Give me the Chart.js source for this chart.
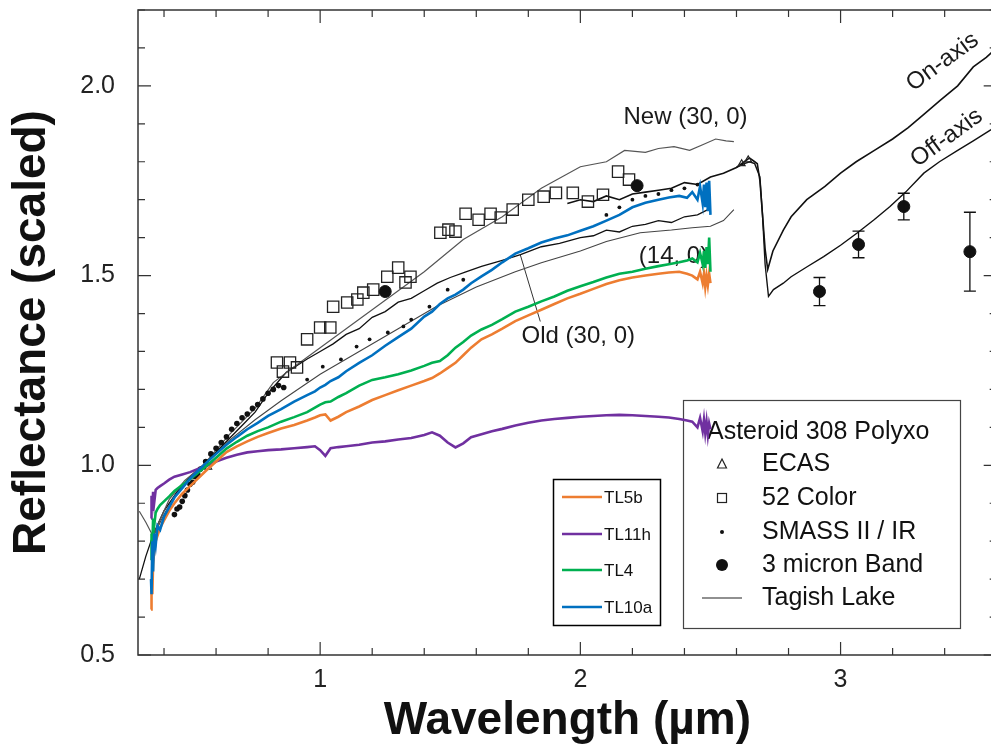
<!DOCTYPE html>
<html>
<head>
<meta charset="utf-8">
<title>Asteroid 308 Polyxo vs Tagish Lake</title>
<script src="https://cdn.jsdelivr.net/npm/chart.js@4.4.1/dist/chart.umd.min.js"></script>
<style>
  html, body { margin: 0; padding: 0; background: #fff; overflow: hidden; }
  #wrap { width: 1006px; height: 748px; }
</style>
</head>
<body>
<div id="wrap"><canvas id="c" width="1006" height="748"></canvas></div>
<script>
// shared wavelength grid (um) for the four coloured TL spectra
const tlWl = [0.350, 0.352, 0.355, 0.358, 0.362, 0.368, 0.375, 0.385, 0.40, 0.42, 0.44, 0.47, 0.50, 0.53, 0.56,
  0.60, 0.64, 0.68, 0.72, 0.76, 0.80, 0.85, 0.90, 0.95, 0.98, 1.00, 1.02, 1.04, 1.07, 1.10, 1.15, 1.20, 1.25,
  1.30, 1.35, 1.40, 1.43, 1.46, 1.49, 1.52, 1.55, 1.58, 1.62, 1.66, 1.70, 1.75, 1.80, 1.85, 1.90, 1.95, 2.00,
  2.05, 2.10, 2.15, 2.20, 2.25, 2.30, 2.34, 2.38, 2.41, 2.43, 2.45, 2.46, 2.47, 2.475, 2.48, 2.485, 2.49, 2.495, 2.50];

const tl10a = [0.70, 0.66, 0.80, 0.72, 0.82, 0.79, 0.84, 0.83, 0.865, 0.89, 0.915, 0.94, 0.965, 0.985, 1.005,
  1.03, 1.054, 1.075, 1.095, 1.112, 1.13, 1.148, 1.168, 1.185, 1.195, 1.205, 1.212, 1.222, 1.232, 1.248, 1.27, 1.29, 1.315,
  1.338, 1.36, 1.392, 1.405, 1.425, 1.44, 1.45, 1.463, 1.48, 1.498, 1.515, 1.535, 1.558, 1.572, 1.587, 1.598, 1.606, 1.618,
  1.63, 1.645, 1.66, 1.68, 1.692, 1.70, 1.706, 1.71, 1.705, 1.72, 1.70, 1.735, 1.69, 1.74, 1.68, 1.745, 1.67, 1.75, 1.66];

const tl4 = [0.75, 0.82, 0.78, 0.86, 0.84, 0.875, 0.885, 0.895, 0.905, 0.918, 0.932, 0.948, 0.963, 0.98, 0.997,
  1.02, 1.044, 1.062, 1.078, 1.09, 1.10, 1.115, 1.127, 1.14, 1.152, 1.16, 1.166, 1.168, 1.18, 1.19, 1.21, 1.225, 1.232,
  1.24, 1.25, 1.262, 1.27, 1.275, 1.29, 1.31, 1.325, 1.342, 1.358, 1.37, 1.385, 1.405, 1.418, 1.432, 1.445, 1.46, 1.472,
  1.483, 1.495, 1.505, 1.51, 1.518, 1.525, 1.53, 1.535, 1.54, 1.545, 1.535, 1.56, 1.53, 1.565, 1.52, 1.575, 1.53, 1.60, 1.51];

const tl5b = [0.62, 0.70, 0.66, 0.74, 0.77, 0.80, 0.815, 0.835, 0.855, 0.88, 0.90, 0.925, 0.945, 0.965, 0.985,
  1.01, 1.035, 1.05, 1.063, 1.075, 1.085, 1.097, 1.106, 1.118, 1.126, 1.132, 1.134, 1.118, 1.128, 1.14, 1.155, 1.172, 1.185,
  1.198, 1.21, 1.222, 1.23, 1.242, 1.256, 1.27, 1.29, 1.31, 1.332, 1.345, 1.36, 1.38, 1.395, 1.41, 1.425, 1.44, 1.452,
  1.465, 1.478, 1.488, 1.495, 1.50, 1.505, 1.508, 1.51, 1.505, 1.50, 1.49, 1.51, 1.48, 1.505, 1.47, 1.50, 1.475, 1.505, 1.48];

const tl11h = [0.86, 0.92, 0.88, 0.93, 0.90, 0.935, 0.94, 0.945, 0.952, 0.962, 0.97, 0.976, 0.982, 0.99, 0.997,
  1.01, 1.02, 1.028, 1.034, 1.037, 1.04, 1.042, 1.045, 1.048, 1.05, 1.04, 1.025, 1.045, 1.048, 1.05, 1.054, 1.06, 1.063,
  1.068, 1.072, 1.08, 1.087, 1.078, 1.06, 1.047, 1.058, 1.074, 1.082, 1.09, 1.096, 1.105, 1.112, 1.118, 1.122, 1.125, 1.128,
  1.13, 1.132, 1.133, 1.132, 1.13, 1.128, 1.126, 1.122, 1.118, 1.115, 1.10, 1.125, 1.09, 1.12, 1.085, 1.115, 1.08, 1.11, 1.095];

// Tagish Lake lab spectra (black)
const newWl = [0.305, 0.33, 0.358, 0.38, 0.42, 0.48, 0.55, 0.65, 0.75, 0.82, 0.90, 1.00, 1.10, 1.20, 1.30, 1.40,
  1.55, 1.70, 1.85, 2.00, 2.10, 2.17, 2.25, 2.30, 2.36, 2.42, 2.47, 2.52, 2.56, 2.59];
const newR = [0.879, 0.85, 0.813, 0.85, 0.91, 0.96, 1.0, 1.08, 1.15, 1.218, 1.26, 1.31, 1.36, 1.41, 1.46, 1.51,
  1.595, 1.655, 1.73, 1.787, 1.80, 1.83, 1.825, 1.835, 1.84, 1.83, 1.845, 1.86, 1.855, 1.853];

const oldWl = [0.305, 0.33, 0.36, 0.40, 0.45, 0.50, 0.55, 0.60, 0.65, 0.70, 0.75, 0.80, 0.87, 0.95, 1.00, 1.05,
  1.10, 1.15, 1.20, 1.25, 1.30, 1.35, 1.40, 1.45, 1.50, 1.56, 1.62, 1.70, 1.77, 1.85, 1.92, 2.00, 2.05, 2.10,
  2.15, 2.20, 2.25, 2.30, 2.35, 2.40, 2.45, 2.49];
const oldR = [0.70, 0.76, 0.82, 0.88, 0.93, 0.97, 1.0, 1.035, 1.07, 1.105, 1.14, 1.19, 1.245, 1.28, 1.30, 1.32,
  1.345, 1.36, 1.39, 1.405, 1.43, 1.44, 1.46, 1.48, 1.495, 1.51, 1.524, 1.54, 1.555, 1.576, 1.585, 1.60, 1.605, 1.62,
  1.615, 1.63, 1.635, 1.645, 1.64, 1.655, 1.66, 1.674];

const f14Wl = [0.35, 0.40, 0.45, 0.55, 0.65, 0.75, 0.85, 1.00, 1.15, 1.30, 1.45, 1.60, 1.75, 1.85, 2.00, 2.10,
  2.23, 2.35, 2.43, 2.50, 2.55, 2.59];
const f14R = [0.80, 0.87, 0.93, 1.0, 1.065, 1.12, 1.17, 1.24, 1.30, 1.36, 1.42, 1.47, 1.51, 1.534, 1.565, 1.59,
  1.613, 1.62, 1.626, 1.63, 1.645, 1.674];

const onWl = [1.95, 2.00, 2.05, 2.10, 2.15, 2.20, 2.25, 2.30, 2.35, 2.40, 2.45, 2.50, 2.55, 2.60, 2.63, 2.65, 2.67,
  2.68, 2.69, 2.70, 2.71, 2.72, 2.74, 2.78, 2.81, 2.87, 2.94, 3.00, 3.06, 3.13, 3.20, 3.26, 3.32, 3.385, 3.45,
  3.51, 3.56, 3.60];
const onR = [1.69, 1.70, 1.695, 1.71, 1.70, 1.715, 1.72, 1.725, 1.73, 1.745, 1.74, 1.76, 1.77, 1.785, 1.80, 1.81, 1.80,
  1.795, 1.75, 1.66, 1.57, 1.516, 1.565, 1.62, 1.655, 1.70, 1.735, 1.77, 1.80, 1.83, 1.86, 1.89, 1.925, 1.963, 2.0,
  2.05, 2.075, 2.10];

const offWl = [2.60, 2.63, 2.65, 2.67, 2.69, 2.70, 2.71, 2.723, 2.742, 2.78, 2.81, 2.873, 2.935, 3.00, 3.065, 3.13,
  3.19, 3.25, 3.32, 3.38, 3.45, 3.51, 3.577, 3.60];
const offR = [1.785, 1.795, 1.80, 1.795, 1.76, 1.66, 1.53, 1.445, 1.463, 1.48, 1.497, 1.524, 1.55, 1.58, 1.613, 1.648,
  1.682, 1.72, 1.77, 1.80, 1.83, 1.855, 1.884, 1.895];

// Asteroid 308 Polyxo observations
const color52Wl = [0.834, 0.857, 0.884, 0.911, 0.95, 1.0, 1.039, 1.05, 1.104, 1.143, 1.166, 1.204, 1.258, 1.30, 1.328,
  1.347, 1.462, 1.493, 1.52, 1.559, 1.609, 1.655, 1.694, 1.74, 1.80, 1.859, 1.906, 1.971, 2.029, 2.087, 2.145, 2.187];
const color52R = [1.271, 1.247, 1.271, 1.258, 1.332, 1.363, 1.363, 1.418, 1.429, 1.437, 1.455, 1.463, 1.497, 1.521, 1.482,
  1.497, 1.613, 1.621, 1.616, 1.663, 1.647, 1.663, 1.653, 1.674, 1.70, 1.708, 1.718, 1.718, 1.695, 1.713, 1.774, 1.753];

const smassWl = [0.44, 0.45, 0.46, 0.47, 0.48, 0.49, 0.50, 0.51, 0.52, 0.53, 0.54, 0.56, 0.58, 0.60, 0.62, 0.64, 0.66,
  0.68, 0.70, 0.72, 0.74, 0.76, 0.78, 0.80, 0.82, 0.84, 0.86, 0.95, 1.01, 1.08, 1.14, 1.19, 1.26, 1.32, 1.35, 1.42,
  1.49, 1.55, 2.10, 2.15, 2.20, 2.25, 2.30, 2.35, 2.40, 2.45];
const smassR = [0.87, 0.885, 0.89, 0.905, 0.92, 0.935, 0.95, 0.955, 0.97, 0.975, 0.99, 1.01, 1.03, 1.045, 1.06, 1.075,
  1.095, 1.11, 1.125, 1.135, 1.15, 1.16, 1.175, 1.19, 1.20, 1.21, 1.205, 1.226, 1.26, 1.279, 1.313, 1.332, 1.35, 1.366,
  1.384, 1.418, 1.463, 1.489, 1.66, 1.68, 1.70, 1.71, 1.715, 1.725, 1.73, 1.74];

const ecasWl = [0.57, 2.62, 2.645];
const ecasR = [0.995, 1.795, 1.805];

const bandWl = [1.25, 2.218, 2.919, 3.069, 3.243, 3.497];
const bandR = [1.458, 1.737, 1.458, 1.582, 1.682, 1.563];
const bandErr = [0, 0, 0.037, 0.035, 0.035, 0.104];

const tlNames = ['TL5b', 'TL11h', 'TL4', 'TL10a'];
const tlColors = ['#ED7D31', '#7030A0', '#00B050', '#0070C0'];

const FONT = '"Liberation Sans", Arial, Helvetica, sans-serif';

function pts(xs, ys) {
  return xs.map((v, i) => ({ x: v, y: ys[i] }));
}

function lineSet(label, xs, ys, color, width) {
  return { label, data: pts(xs, ys), showLine: true, borderColor: color, borderWidth: width,
    pointRadius: 0, tension: 0, fill: false };
}

const decor = {
  id: 'decor',
  beforeDatasetsDraw(chart) {
    const { ctx, scales: { x, y } } = chart;
    ctx.save();
    // Polyxo legend box (drawn under the spectra, the purple one crosses it)
    ctx.fillStyle = '#fff';
    ctx.fillRect(683, 400, 277, 228);
    ctx.strokeStyle = '#444';
    ctx.lineWidth = 1.2;
    ctx.strokeRect(683.5, 400.5, 277, 228);
    ctx.fillStyle = '#111';
    ctx.font = '25px ' + FONT;
    ctx.textBaseline = 'middle';
    ctx.textAlign = 'left';
    ctx.fillText('Asteroid 308 Polyxo', 707, 432);
    const items = ['ECAS', '52 Color', 'SMASS II / IR', '3 micron Band', 'Tagish Lake'];
    const rows = [464, 498, 532, 565, 598];
    items.forEach((t, i) => ctx.fillText(t, 762, rows[i]));
    ctx.strokeStyle = '#222';
    ctx.lineWidth = 1.2;
    ctx.beginPath();
    ctx.moveTo(722, rows[0] - 5); ctx.lineTo(726.5, rows[0] + 4); ctx.lineTo(717.5, rows[0] + 4); ctx.closePath();
    ctx.stroke();
    ctx.strokeRect(717.5, rows[1] - 4.5, 9, 9);
    ctx.beginPath(); ctx.arc(722, rows[2], 2, 0, Math.PI * 2); ctx.fill();
    ctx.beginPath(); ctx.arc(722, rows[3], 6, 0, Math.PI * 2); ctx.fill();
    ctx.beginPath(); ctx.moveTo(702, rows[4]); ctx.lineTo(742, rows[4]); ctx.stroke();

    // curve labels
    ctx.textAlign = 'center';
    ctx.fillStyle = '#1a1a1a';
    ctx.font = '24px ' + FONT;
    ctx.fillText('New (30, 0)', x.getPixelForValue(2.404), y.getPixelForValue(1.918));
    ctx.fillText('(14, 0)', x.getPixelForValue(2.358), y.getPixelForValue(1.55));
    ctx.fillText('Old (30, 0)', x.getPixelForValue(1.992), y.getPixelForValue(1.339));
    ctx.strokeStyle = '#333';
    ctx.lineWidth = 1;
    ctx.beginPath();
    ctx.moveTo(x.getPixelForValue(1.846), y.getPixelForValue(1.379));
    ctx.lineTo(x.getPixelForValue(1.769), y.getPixelForValue(1.555));
    ctx.stroke();
    [['On-axis', 3.392, 2.063], ['Off-axis', 3.408, 1.863]].forEach(([t, wx, wy]) => {
      ctx.save();
      ctx.translate(x.getPixelForValue(wx), y.getPixelForValue(wy));
      ctx.rotate(-36 * Math.PI / 180);
      ctx.fillText(t, 0, 0);
      ctx.restore();
    });
    ctx.restore();
  },
  afterDatasetsDraw(chart) {
    const { ctx, chartArea: a, scales: { x, y } } = chart;
    ctx.save();
    // error bars on the 3 micron band points
    ctx.strokeStyle = '#111';
    ctx.lineWidth = 1.3;
    bandWl.forEach((w, i) => {
      if (!bandErr[i]) return;
      const px = x.getPixelForValue(w);
      const t = y.getPixelForValue(bandR[i] + bandErr[i]);
      const b = y.getPixelForValue(bandR[i] - bandErr[i]);
      ctx.beginPath();
      ctx.moveTo(px, t); ctx.lineTo(px, b);
      ctx.moveTo(px - 6, t); ctx.lineTo(px + 6, t);
      ctx.moveTo(px - 6, b); ctx.lineTo(px + 6, b);
      ctx.stroke();
    });

    // frame (right side is off the picture) and inward ticks
    ctx.strokeStyle = '#333';
    ctx.lineWidth = 1.5;
    ctx.beginPath();
    ctx.moveTo(a.right, a.top); ctx.lineTo(a.left, a.top);
    ctx.lineTo(a.left, a.bottom); ctx.lineTo(a.right, a.bottom);
    ctx.stroke();
    ctx.lineWidth = 1.2;
    ctx.beginPath();
    for (let k = 5; k <= 22; k++) {
      const py = y.getPixelForValue(k / 10);
      const len = k % 5 === 0 ? 13 : 7;
      ctx.moveTo(a.left, py); ctx.lineTo(a.left + len, py);
      ctx.moveTo(a.right, py); ctx.lineTo(a.right - len, py);
    }
    for (let k = 2; k <= 18; k++) {
      const px = x.getPixelForValue(k / 5);
      const len = k % 5 === 0 ? 13 : 7;
      ctx.moveTo(px, a.bottom); ctx.lineTo(px, a.bottom - len);
      ctx.moveTo(px, a.top); ctx.lineTo(px, a.top + len);
    }
    ctx.stroke();
    ctx.restore();
  },
  afterDraw(chart) {
    const { ctx } = chart;
    ctx.save();
    ctx.fillStyle = '#fff';
    ctx.fillRect(553, 479, 107, 146);
    ctx.strokeStyle = '#000';
    ctx.lineWidth = 1.5;
    ctx.strokeRect(553.5, 479.5, 107, 146);
    ctx.font = '17px ' + FONT;
    ctx.textBaseline = 'middle';
    ctx.textAlign = 'left';
    const rows = [497, 534, 570, 607];
    tlNames.forEach((n, i) => {
      ctx.strokeStyle = tlColors[i];
      ctx.lineWidth = 2.5;
      ctx.beginPath(); ctx.moveTo(562, rows[i]); ctx.lineTo(602, rows[i]); ctx.stroke();
      ctx.fillStyle = '#111';
      ctx.fillText(n, 604, rows[i] + 1);
    });
    ctx.restore();
  }
};

new Chart(document.getElementById('c'), {
  type: 'scatter',
  data: {
    datasets: [
      lineSet('TL10a', tlWl, tl10a, tlColors[3], 2.6),
      lineSet('TL4', tlWl, tl4, tlColors[2], 2.6),
      lineSet('TL5b', tlWl, tl5b, tlColors[0], 2.6),
      lineSet('TL11h', tlWl, tl11h, tlColors[1], 2.6),
      { label: '3 micron Band', data: pts(bandWl, bandR), pointRadius: 6, pointStyle: 'circle',
        backgroundColor: '#111', borderColor: '#111' },
      { label: '52 Color', data: pts(color52Wl, color52R), pointRadius: 8, pointStyle: 'rect',
        backgroundColor: 'rgba(255,255,255,0)', borderColor: '#222', borderWidth: 1.3 },
      { label: 'SMASS II / IR', data: pts(smassWl, smassR), pointStyle: 'circle',
        pointRadius: smassWl.map(w => (w < 0.9 ? 2.8 : 1.9)),
        backgroundColor: '#111', borderColor: '#111', borderWidth: 0 },
      { label: 'ECAS', data: pts(ecasWl, ecasR), pointRadius: 4, pointStyle: 'triangle',
        backgroundColor: 'rgba(255,255,255,0)', borderColor: '#222', borderWidth: 1.1 },
      lineSet('New (30, 0)', newWl, newR, '#555', 1.2),
      lineSet('Old (30, 0)', oldWl, oldR, '#111', 1.3),
      lineSet('(14, 0)', f14Wl, f14R, '#444', 1.1),
      lineSet('On-axis', onWl, onR, '#111', 1.6),
      lineSet('Off-axis', offWl, offR, '#111', 1.4)
    ]
  },
  options: {
    responsive: false,
    animation: false,
    events: [],
    layout: { padding: { top: 10, right: 4, left: 0, bottom: 0 } },
    plugins: { legend: { display: false }, tooltip: { enabled: false } },
    scales: {
      x: {
        type: 'linear', min: 0.3, max: 3.6,
        grid: { display: false, drawTicks: false },
        border: { display: false },
        ticks: { stepSize: 1, includeBounds: false, padding: 10, color: '#222',
          font: { family: FONT, size: 25 }, callback: v => String(v) },
        title: { display: true, text: 'Wavelength (µm)', color: '#111', padding: { top: 0, bottom: 4 },
          font: { family: FONT, size: 46, weight: 'bold', lineHeight: 1 } },
        afterFit: s => { s.height = 93; s.paddingLeft = 0; s.paddingRight = 0; }
      },
      y: {
        type: 'linear', min: 0.5, max: 2.2,
        grid: { display: false, drawTicks: false },
        border: { display: false },
        ticks: { stepSize: 0.5, includeBounds: false, padding: 23, color: '#222',
          font: { family: FONT, size: 25 }, callback: v => v.toFixed(1) },
        title: { display: true, text: 'Reflectance (scaled)', color: '#111', padding: { top: 9, bottom: 0 },
          font: { family: FONT, size: 46, weight: 'bold', lineHeight: 1 } },
        afterFit: s => { s.width = 138; s.paddingTop = 0; s.paddingBottom = 0; }
      }
    }
  },
  plugins: [decor]
});
</script>
</body>
</html>
